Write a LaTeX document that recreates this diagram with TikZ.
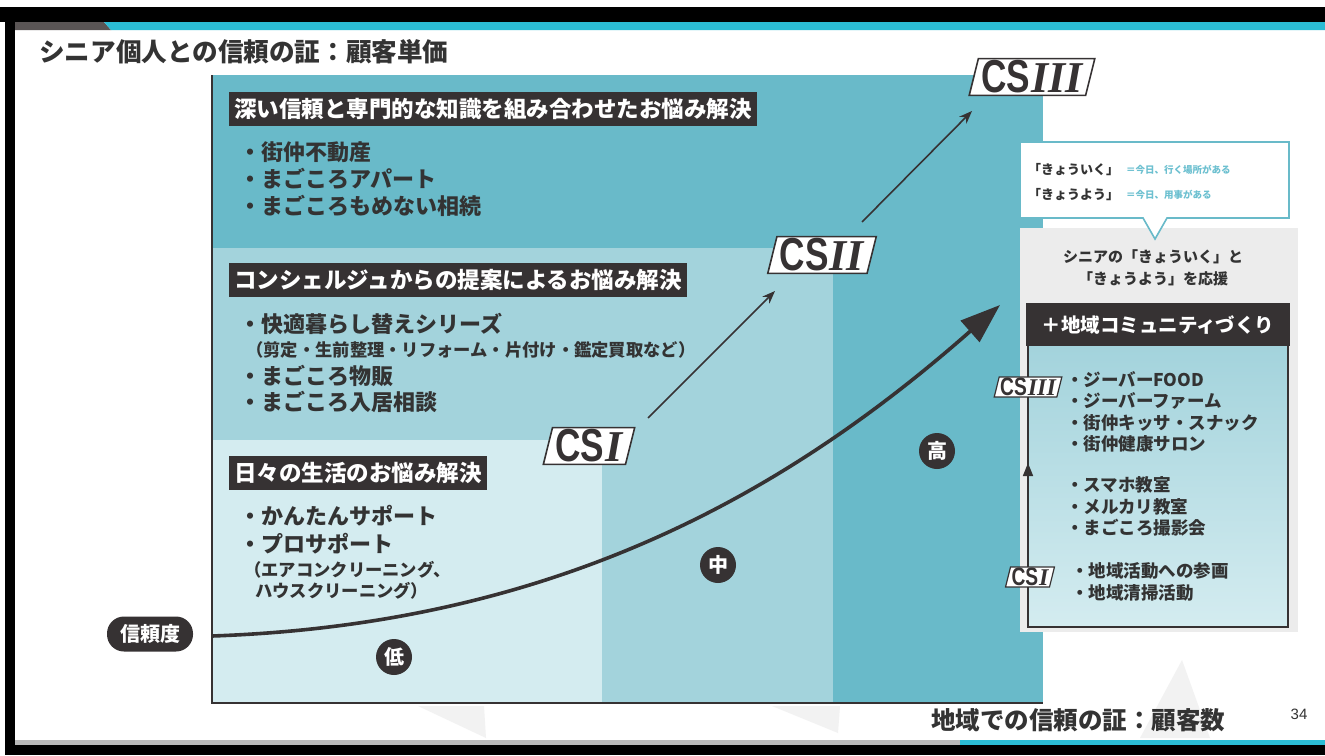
\documentclass[tikz,border=0pt]{standalone}
\usepackage{fontspec}
\usepackage{graphicx}
\setmainfont{Noto Sans CJK JP}
\newfontfamily\csfont{Liberation Sans}
\newfontfamily\numfont{Liberation Serif}
\usetikzlibrary{shapes.geometric,arrows.meta,calc}
\definecolor{tealD}{HTML}{69BAC9}
\definecolor{tealM}{HTML}{A3D3DC}
\definecolor{tealL}{HTML}{D4ECF0}
\definecolor{darkbox}{HTML}{363233}
\definecolor{txt}{HTML}{333333}
\definecolor{cyanbar}{HTML}{2BBCD4}
\definecolor{graybar}{HTML}{5A5555}
\definecolor{panelgray}{HTML}{ECECEC}
\definecolor{bubbletxt}{HTML}{6CC0D0}
\definecolor{faint}{HTML}{F2F2F2}
\newcommand{\fs}[1]{\fontsize{#1}{#1}\selectfont}
\newcommand{\csmark}[2]{{\csfont\bfseries\scalebox{0.8}[1.05]{CS}}\kern1pt{\numfont\bfseries\itshape #2}}
\tikzset{
  hdr/.style={fill=darkbox, text=white, font=\fs{22.5}\bfseries, inner xsep=5pt, inner ysep=6.5pt, anchor=west},
  item/.style={text=txt, font=\fs{22}\bfseries, anchor=west, inner sep=0pt},
  subitem/.style={text=txt, font=\fs{17.3}\bfseries, anchor=west, inner sep=0pt},
  ritem/.style={text=txt, font=\fs{17.5}\bfseries, anchor=west, inner sep=0pt},
  level/.style={circle, fill=darkbox, text=white, minimum size=36pt, inner sep=0pt, font=\fs{20}\bfseries},
  csbig/.style={trapezium, trapezium left angle=76, trapezium right angle=104, trapezium stretches body,
    draw=darkbox, line width=1.6pt, fill=white, text=darkbox, font=\fs{44}, inner xsep=3pt, inner ysep=2pt},
  cssmall/.style={csbig, line width=1.2pt, font=\fs{24}, inner xsep=1pt, inner ysep=1pt},
  thinarrow/.style={draw=darkbox, line width=1.6pt, -{Stealth[length=13pt,width=10pt]}},
}
\begin{document}
\begin{tikzpicture}[x=1pt,y=-1pt]
\useasboundingbox (0,0) rectangle (1325,755);
\fill[white] (0,0) rectangle (1325,755);
% frame
\fill[black] (0,7) rectangle (1325,22);
\fill[black] (5,7) rectangle (15,755);
\fill[black] (5,745) rectangle (1325,755);
\fill[graybar] (15,22) -- (104,22) -- (111,30) -- (15,30) -- cycle;
\fill[cyanbar] (104,22) -- (1325,22) -- (1325,30) -- (111,30) -- cycle;
\fill[gray!55] (15,740) rectangle (960,745);
\fill[cyanbar] (960,740) rectangle (1325,745);
% faint background marks
\fill[faint] (418,706) -- (484,706) -- (486,738) -- cycle;
\fill[faint] (772,706) -- (840,706) -- (838,733) -- cycle;
\fill[faint] (1182,660) -- (1210,738) -- (1140,738) -- cycle;
% title
\node[anchor=west, text=txt, font=\fs{25.6}\bfseries, inner sep=0pt] (title) at (39,52) {シニア個人との信頼の証：顧客単価};
% chart regions
\fill[tealD] (212,75) rectangle (1043,703);
\fill[tealM] (212,248) rectangle (833,703);
\fill[tealL] (212,440) rectangle (602,703);
\draw[darkbox, line width=2.5pt] (212,75) -- (212,703) -- (1043,703);
% top group
\node[hdr] (h1) at (229,109) {深い信頼と専門的な知識を組み合わせたお悩み解決};
\node[item] (a1) at (239,152) {・街仲不動産};
\node[item] (a2) at (239,179) {・まごころアパート};
\node[item] (a3) at (239,206) {・まごころもめない相続};
% middle group
\node[hdr] (h2) at (229,280) {コンシェルジュからの提案によるお悩み解決};
\node[item] (b1) at (239,324) {・快適暮らし替えシリーズ};
\node[subitem] (b2) at (246,350) {（剪定・生前整理・リフォーム・片付け・鑑定買取など）};
\node[item] (b3) at (239,376) {・まごころ物販};
\node[item] (b4) at (239,402) {・まごころ入居相談};
% lower group
\node[hdr] (h3) at (229,473) {日々の生活のお悩み解決};
\node[item] (c1) at (239,516) {・かんたんサポート};
\node[item] (c2) at (239,544) {・プロサポート};
\node[subitem] (c3) at (244,570) {（エアコンクリーニング、};
\node[subitem] (c4) at (255,591) {ハウスクリーニング）};
% axis label and levels
\node[fill=darkbox, text=white, rounded corners=17pt, minimum width=86pt, minimum height=35pt, inner sep=0pt, font=\fs{20}\bfseries] (trust) at (150,634) {信頼度};
\node[level] (low) at (394,657) {低};
\node[level] (mid) at (718,565) {中};
\node[level] (high) at (937,451) {高};
% main curve
\coordinate (cS) at (212,636);
\coordinate (cE) at (1000,305);
\draw[darkbox, line width=3.6pt, -{Triangle[length=40pt,width=28pt]}] (cS) .. controls (560,624) and (790,490) .. (cE);
% CS labels
\node[csbig] (cs1) at (589,446) {\csmark{}{I}};
\node[csbig] (cs2) at (822,255) {\csmark{}{II}};
\node[csbig] (cs3) at (1032,77) {\csmark{}{III}};
\coordinate (a1s) at (648,418);
\coordinate (a1e) at (775,291);
\coordinate (a2s) at (862,222);
\coordinate (a2e) at (972,111);
\draw[thinarrow] (a1s) -- (a1e);
\draw[thinarrow] (a2s) -- (a2e);
% right panel
\fill[panelgray] (1020,228) rectangle (1298,632);
\draw[tealD, line width=1.6pt, fill=white] (1020,142) -- (1289,142) -- (1289,218) -- (1167,218) -- (1155,239) -- (1143,218) -- (1020,218) -- cycle;
\node[anchor=west, text=txt, font=\fs{13}\bfseries, inner sep=0pt] (k1) at (1028,170) {「きょういく」};
\node[anchor=west, text=bubbletxt, font=\fs{9.5}\bfseries, inner sep=0pt] (k1d) at (1126,170) {＝今日、行く場所がある};
\node[anchor=west, text=txt, font=\fs{13}\bfseries, inner sep=0pt] (k2) at (1028,195) {「きょうよう」};
\node[anchor=west, text=bubbletxt, font=\fs{9.5}\bfseries, inner sep=0pt] (k2d) at (1126,195) {＝今日、用事がある};
\node[text=txt, font=\fs{15}\bfseries, inner sep=0pt] (g1) at (1153,257) {シニアの「きょういく」と};
\node[text=txt, font=\fs{15}\bfseries, inner sep=0pt] (g2) at (1153,279) {「きょうよう」を応援};
\fill[darkbox] (1026,303) rectangle (1290,346);
\node[text=white, font=\fs{19.5}\bfseries, inner sep=0pt] (rh) at (1158,325) {＋地域コミュニティづくり};
\draw[darkbox, line width=1.6pt, top color=tealM, bottom color=tealL] (1028,346) -- (1028,627) -- (1288,627) -- (1288,346);
\node[ritem] (r1) at (1066,380) {・ジーバーFOOD};
\node[ritem] (r2) at (1066,401) {・ジーバーファーム};
\node[ritem] (r3) at (1066,423) {・街仲キッサ・スナック};
\node[ritem] (r4) at (1066,444) {・街仲健康サロン};
\node[ritem] (r5) at (1066,485) {・スマホ教室};
\node[ritem] (r6) at (1066,507) {・メルカリ教室};
\node[ritem] (r7) at (1066,528) {・まごころ撮影会};
\node[ritem] (r8) at (1071,571) {・地域活動への参画};
\node[ritem] (r9) at (1071,593) {・地域清掃活動};
\coordinate (va) at (1028,560);
\coordinate (vb) at (1028,463);
\draw[darkbox, line width=1.6pt, -{Triangle[length=13pt,width=10pt]}] (va) -- (vb);
\node[cssmall] (s3) at (1028,387) {\csmark{}{III}};
\node[cssmall] (s1) at (1030,577) {\csmark{}{I}};
% bottom labels
\node[text=txt, font=\fs{24.5}\bfseries, inner sep=0pt] (xlab) at (1078,720) {地域での信頼の証：顧客数};
\node[text=txt, font=\csfont\fs{15}, inner sep=0pt] (page) at (1299,714) {34};
\end{tikzpicture}
\end{document}
